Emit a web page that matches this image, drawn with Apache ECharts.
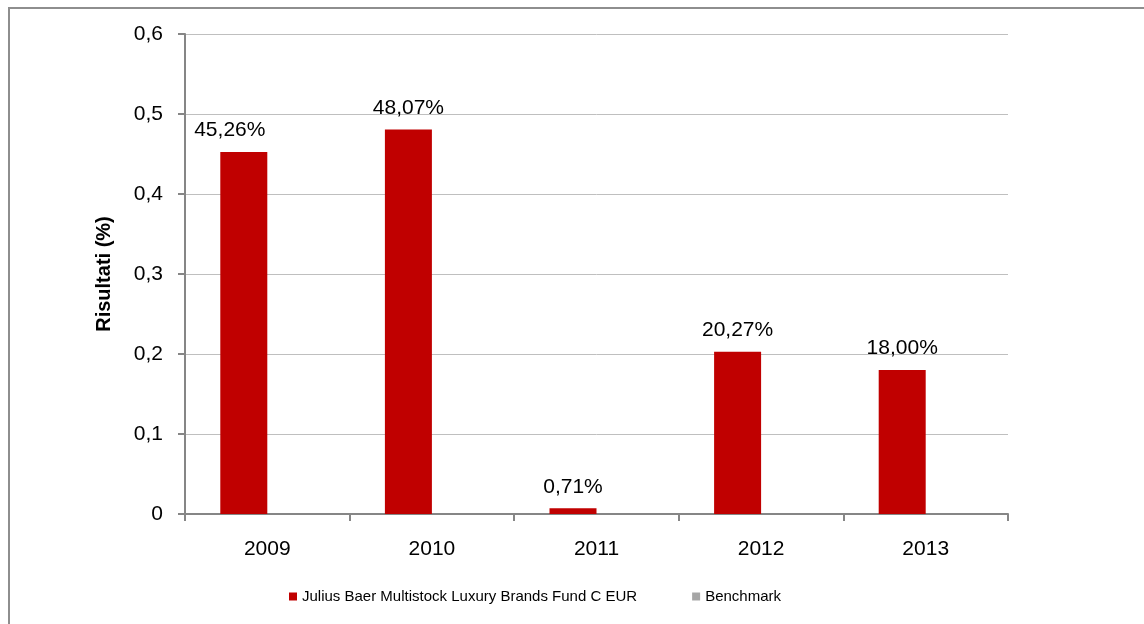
<!DOCTYPE html>
<html>
<head>
<meta charset="utf-8">
<script src="https://cdn.jsdelivr.net/npm/echarts@6/dist/echarts.min.js"></script>
<style>
html, body { margin: 0; padding: 0; background: #fff; }
#frame {
	position: absolute;
	left: 8px;
	top: 7px;
	width: 1200px;
	height: 700px;
	border-left: 2px solid #8e8e8e;
	border-top: 2px solid #8e8e8e;
}
#chart { position: absolute; left: 0; top: 0; width: 1144px; height: 624px; }
</style>
</head>
<body>
<div id="frame"></div>
<div id="chart"></div>
<script>
'use strict';

// dati
const years = ['2009', '2010', '2011', '2012', '2013'];
const fundValues = [0.4526, 0.4807, 0.0071, 0.2027, 0.1800];
const benchmarkValues = [null, null, null, null, null];
const yTicks = { min: 0, max: 0.6, step: 0.1 };

const fundName = 'Julius Baer Multistock Luxury Brands Fund C EUR';
const benchName = 'Benchmark';

const font = '"Liberation Sans", Arial, sans-serif';

const chart = echarts.init(document.getElementById('chart'));

// la prima etichetta è spostata un po' a sinistra come nell'originale
const fundData = fundValues.map((v, i) => (i === 0 ? { value: v, label: { offset: [-14, 0] } } : v));

chart.setOption({
	animation: false,
	textStyle: { fontFamily: font },
	grid: { left: 185, right: 136, top: 34, bottom: 110 },
	legend: {
		left: 284,
		top: 584,
		icon: 'rect',
		itemWidth: 8,
		itemHeight: 8,
		itemGap: 55,
		textStyle: { fontSize: 15, color: '#000', fontFamily: font },
		data: [fundName, benchName]
	},
	xAxis: {
		type: 'category',
		data: years,
		axisLine: { lineStyle: { color: '#868686', width: 2 } },
		axisTick: { show: true, length: 7, lineStyle: { color: '#868686', width: 2 } },
		axisLabel: { fontSize: 21, color: '#000', margin: 25 }
	},
	yAxis: {
		type: 'value',
		min: yTicks.min,
		max: yTicks.max,
		interval: yTicks.step,
		name: 'Risultati (%)',
		nameLocation: 'middle',
		nameGap: 71,
		nameTextStyle: { fontSize: 20, fontWeight: 'bold', color: '#000' },
		axisLine: { show: true, lineStyle: { color: '#868686', width: 2 } },
		axisTick: { show: true, length: 7, lineStyle: { color: '#868686', width: 2 } },
		axisLabel: {
			fontSize: 21,
			color: '#000',
			margin: 22,
			formatter: v => (v === 0 ? '0' : v.toFixed(1).replace('.', ','))
		},
		splitLine: { lineStyle: { color: '#bfbfbf', width: 1 } }
	},
	series: [
		{
			name: fundName,
			type: 'bar',
			data: fundData,
			barWidth: 47,
			barGap: '0%',
			itemStyle: { color: '#c00000' },
			label: {
				show: true,
				position: 'top',
				distance: 11,
				fontSize: 21,
				color: '#000',
				formatter: p => (p.value * 100).toFixed(2).replace('.', ',') + '%'
			}
		},
		{
			name: benchName,
			type: 'bar',
			data: benchmarkValues,
			barWidth: 47,
			barGap: '0%',
			itemStyle: { color: '#a6a6a6' }
		}
	]
});
</script>
</body>
</html>
